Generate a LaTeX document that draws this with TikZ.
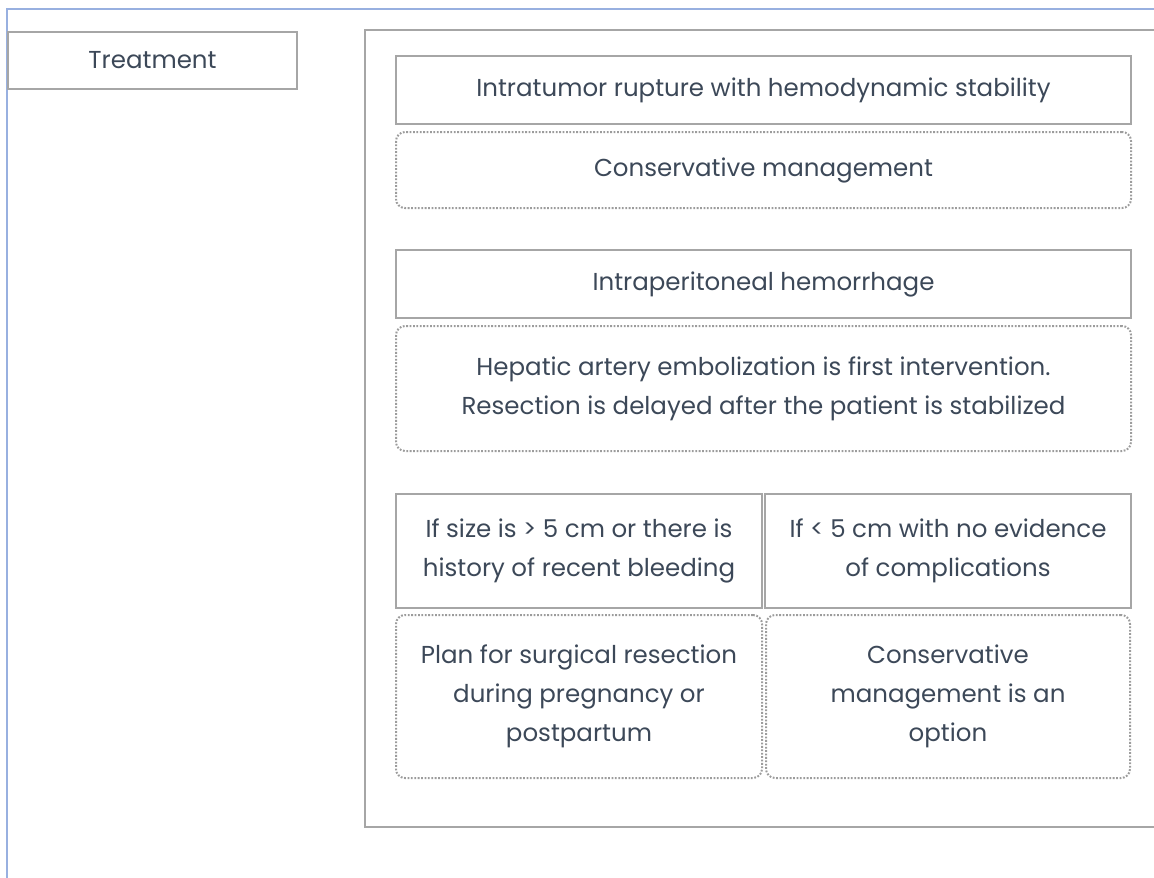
\documentclass[tikz,border=0pt]{standalone}
\usepackage{fontspec}
\setmainfont{Poppins}
\usetikzlibrary{positioning}
\definecolor{FrameBlue}{HTML}{98B0E0}
\definecolor{BoxGray}{HTML}{A6A6A6}
\definecolor{DotGray}{HTML}{9C9C9C}
\definecolor{InkSlate}{HTML}{3C4858}

\begin{document}
\begin{tikzpicture}[
    x=1pt, y=-1pt,
    every node/.style={
      text=InkSlate,
      font=\fontsize{24.5}{39}\selectfont,
      align=center,
      inner sep=0pt
    },
    cond/.style={
      draw=BoxGray,
      line width=2pt,
      anchor=north west,
      minimum width=#1
    },
    action/.style={
      draw=DotGray,
      line width=2pt,
      dash pattern=on 1.8pt off 1.6pt,
      rounded corners=9pt,
      anchor=north,
      minimum width=#1
    },
    node distance=6pt
  ]
  \useasboundingbox (0,0) rectangle (1154,878);

  % page frame and outer panel
  \draw[FrameBlue, line width=2.5pt] (7,878) -- (7,9) -- (1154,9);
  \draw[BoxGray, line width=2pt] (1154,30) -- (365,30) -- (365,827) -- (1154,827);

  \node[cond=289pt, minimum height=57pt] (treat) at (7,31) {Treatment};

  % first case
  \node[cond=735pt, minimum height=68pt] (stable) at (395,55)
    {Intratumor rupture with hemodynamic stability};
  \node[action=735pt, minimum height=76pt, below=of stable] (stableAct)
    {Conservative management};

  % second case
  \node[cond=735pt, minimum height=68pt] (bleed) at (395,249)
    {Intraperitoneal hemorrhage};
  \node[action=735pt, minimum height=125pt, below=of bleed] (bleedAct)
    {Hepatic artery embolization is first intervention.\\
     Resection is delayed after the patient is stabilized};

  % third case, split by size
  \node[cond=366pt, minimum height=114pt] (large) at (395,493)
    {If size is > 5 cm or there is\\history of recent bleeding};
  \node[cond=366pt, minimum height=114pt] (small) at (764,493)
    {If < 5 cm with no evidence\\of complications};
  \node[action=366pt, minimum height=163pt, below=5pt of large] (largeAct)
    {Plan for surgical resection\\during pregnancy or\\postpartum};
  \node[action=364pt, minimum height=163pt, below=5pt of small] (smallAct)
    {Conservative\\management is an\\option};

\end{tikzpicture}
\end{document}
